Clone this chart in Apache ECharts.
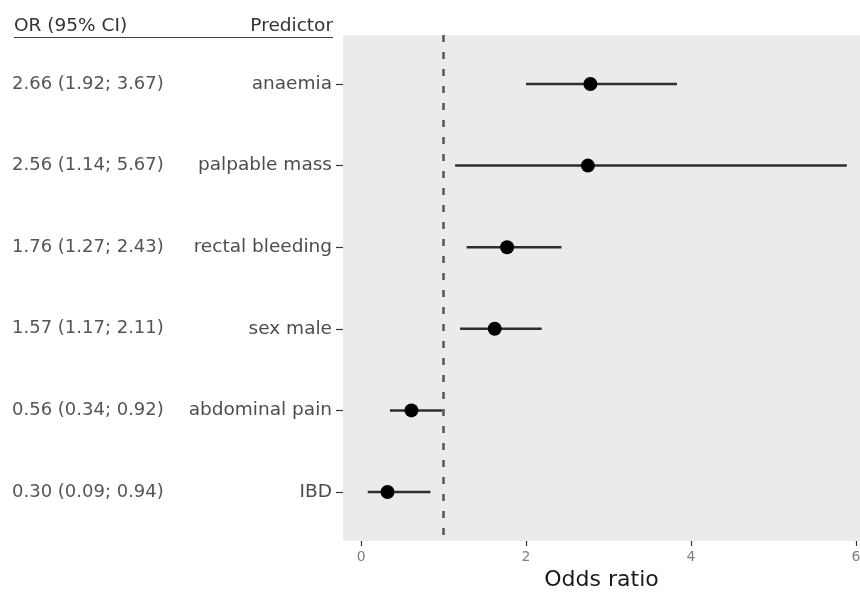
<!DOCTYPE html>
<html>
<head>
<meta charset="utf-8">
<script src="https://cdn.jsdelivr.net/npm/echarts@6/dist/echarts.min.js"></script>
<style>
  html, body { margin: 0; padding: 0; background: #fff; }
  #main { width: 860px; height: 592px; }
</style>
</head>
<body>
<div id="main"></div>
<script>
// forest plot data, top row first
const predictors = ['anaemia', 'palpable mass', 'rectal bleeding', 'sex male', 'abdominal pain', 'IBD'];
const orLabels = ['2.66 (1.92; 3.67)', '2.56 (1.14; 5.67)', '1.76 (1.27; 2.43)', '1.57 (1.17; 2.11)', '0.56 (0.34; 0.92)', '0.30 (0.09; 0.94)'];
// positions as drawn in the picture
const estimates = [2.78, 2.75, 1.77, 1.62, 0.61, 0.32];
const lower = [2.00, 1.14, 1.28, 1.20, 0.35, 0.08];
const upper = [3.83, 5.89, 2.43, 2.19, 0.98, 0.84];
const xTicks = [0, 2, 4, 6];
const refLine = 1;

const rows = predictors.map((p, i) => i);
const font = 'DejaVu Sans';

const myChart = echarts.init(document.getElementById('main'));

myChart.setOption({
    animation: false,
    grid: {
        left: 343, right: 0, top: 35, bottom: 51,
        outerBoundsMode: 'none',
        containLabel: false,
        show: true, backgroundColor: '#ebebeb', borderWidth: 0
    },
    xAxis: {
        type: 'value',
        min: -0.22, max: 6.05,
        name: 'Odds ratio',
        nameLocation: 'middle',
        nameGap: 27,
        nameTextStyle: { fontFamily: font, fontSize: 22, color: '#1a1a1a' },
        axisLine: { show: false, onZero: false },
        splitLine: { show: false },
        axisTick: { show: true, customValues: xTicks, length: 5, lineStyle: { color: '#333', width: 1.2 } },
        axisLabel: { customValues: xTicks, margin: 9, fontFamily: font, fontSize: 14, color: '#7f7f7f' }
    },
    yAxis: [
        {
            type: 'value',
            min: -0.6, max: 5.6,
            inverse: true,
            axisLine: { show: false, onZero: false },
            splitLine: { show: false },
            axisTick: { show: true, customValues: rows, length: 7, lineStyle: { color: '#333', width: 1.2 } },
            axisLabel: {
                customValues: rows,
                margin: 11,
                fontFamily: font, fontSize: 18.5, color: '#4d4d4d',
                formatter: v => predictors[v]
            }
        },
        {
            type: 'value',
            position: 'left',
            offset: 331,
            min: -0.6, max: 5.6,
            inverse: true,
            axisLine: { show: false, onZero: false },
            splitLine: { show: false },
            axisTick: { show: false },
            axisLabel: {
                customValues: rows,
                margin: 0,
                align: 'left',
                fontFamily: font, fontSize: 18, color: '#555',
                formatter: v => orLabels[v]
            }
        }
    ],
    graphic: [
        { type: 'text', left: 14, top: 17, style: { text: 'OR (95% CI)', font: '18.5px "DejaVu Sans"', fill: '#333' } },
        { type: 'text', right: 860 - 333, top: 17, style: { text: 'Predictor', font: '18.5px "DejaVu Sans"', fill: '#333' } },
        { type: 'line', shape: { x1: 14, y1: 37.5, x2: 333, y2: 37.5 }, style: { stroke: '#444', lineWidth: 1.2 } }
    ],
    series: [
        {
            type: 'custom',
            name: 'CI',
            data: rows.map(i => [lower[i], upper[i], i]),
            encode: { x: [0, 1], y: 2 },
            renderItem: (params, api) => {
                const a = api.coord([api.value(0), api.value(2)]);
                const b = api.coord([api.value(1), api.value(2)]);
                return {
                    type: 'line',
                    shape: { x1: a[0], y1: a[1], x2: b[0], y2: b[1] },
                    style: { stroke: '#2e2e2e', lineWidth: 2.5 }
                };
            },
            markLine: {
                silent: true,
                symbol: 'none',
                label: { show: false },
                lineStyle: { type: [7, 10], color: '#555', width: 2.5 },
                data: [{ xAxis: refLine }]
            }
        },
        {
            type: 'scatter',
            name: 'OR',
            data: rows.map(i => [estimates[i], i]),
            symbolSize: 14,
            itemStyle: { color: '#000', opacity: 1 }
        }
    ]
});
</script>
</body>
</html>
